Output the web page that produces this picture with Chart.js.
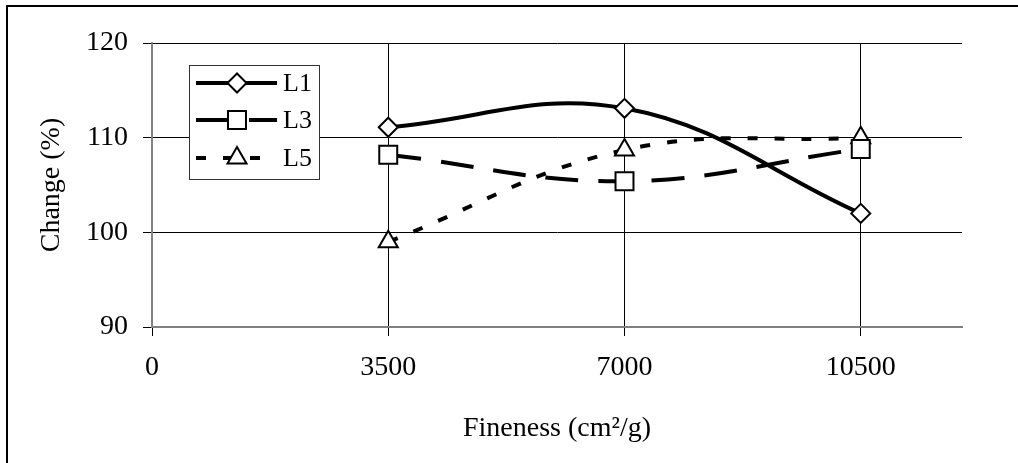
<!DOCTYPE html>
<html>
<head>
<meta charset="utf-8">
<script src="https://cdn.jsdelivr.net/npm/chart.js@4.4.0/dist/chart.umd.min.js"></script>
<style>
  html, body { margin: 0; padding: 0; background: #fff; overflow: hidden; }
</style>
</head>
<body>
<canvas id="fineChart" width="1018" height="463"></canvas>
<script>
const fineness = [3500, 7000, 10500];
const l1 = [111.1, 113.1, 102.0];
const l3 = [108.2, 105.4, 108.8];
const l5 = [99.0, 108.7, 110.0];
const xTicks = [0, 3500, 7000, 10500];
const seriesNames = ["L1", "L3", "L5"];

const serif = "'Liberation Serif', 'Times New Roman', serif";

function points(values) {
  return fineness.map((x, i) => ({ x: x, y: values[i] }));
}

function drawMarker(ctx, style, x, y, r) {
  ctx.beginPath();
  if (style === "rectRot") {
    ctx.moveTo(x, y - r);
    ctx.lineTo(x + r, y);
    ctx.lineTo(x, y + r);
    ctx.lineTo(x - r, y);
    ctx.closePath();
  } else if (style === "rect") {
    const s = r * Math.SQRT1_2;
    ctx.rect(x - s, y - s, 2 * s, 2 * s);
  } else {
    let a = 0;
    ctx.moveTo(x + Math.sin(a) * r, y - Math.cos(a) * r);
    a += (2 * Math.PI) / 3;
    ctx.lineTo(x + Math.sin(a) * r, y - Math.cos(a) * r);
    a += (2 * Math.PI) / 3;
    ctx.lineTo(x + Math.sin(a) * r, y - Math.cos(a) * r);
    ctx.closePath();
  }
  ctx.fill();
  ctx.stroke();
}

// legend box drawn by hand so it can show dashes + markers like the original
const boxLegend = {
  id: "boxLegend",
  afterDatasetsDraw(chart) {
    const ctx = chart.ctx;
    ctx.save();
    ctx.fillStyle = "#fff";
    ctx.fillRect(189, 65, 130, 114);
    ctx.strokeStyle = "#333";
    ctx.lineWidth = 1;
    ctx.strokeRect(189.5, 65.5, 130, 114);
    const rows = [83, 120, 158];
    chart.data.datasets.forEach((ds, i) => {
      const y = rows[i];
      ctx.strokeStyle = "#000";
      ctx.lineWidth = ds.borderWidth;
      ctx.setLineDash(ds.borderDash || []);
      ctx.beginPath();
      ctx.moveTo(196, y);
      ctx.lineTo(277, y);
      ctx.stroke();
      ctx.setLineDash([]);
      ctx.lineWidth = ds.pointBorderWidth;
      ctx.fillStyle = "#fff";
      drawMarker(ctx, ds.pointStyle, 237, y, ds.pointRadius);
      ctx.fillStyle = "#000";
      ctx.font = "26px " + serif;
      ctx.textBaseline = "middle";
      ctx.textAlign = "left";
      ctx.fillText(ds.label, 283, y + 1);
    });
    ctx.restore();
  },
  afterDraw(chart) {
    const ctx = chart.ctx;
    ctx.save();
    ctx.strokeStyle = "#000";
    ctx.lineWidth = 2;
    ctx.strokeRect(7, 6, 1100, 600);
    ctx.restore();
  }
};

new Chart(document.getElementById("fineChart").getContext("2d"), {
  type: "line",
  data: {
    datasets: [
      {
        label: seriesNames[0],
        data: points(l1),
        borderColor: "#000",
        borderWidth: 4,
        pointStyle: "rectRot",
        pointRadius: 9.5,
        pointBorderWidth: 2,
        pointBackgroundColor: "#fff",
        pointBorderColor: "#000",
        tension: 0.4,
      },
      {
        label: seriesNames[1],
        data: points(l3),
        borderColor: "#000",
        borderWidth: 4,
        borderDash: [33, 20],
        pointStyle: "rect",
        pointRadius: 12.7,
        pointBorderWidth: 2,
        pointBackgroundColor: "#fff",
        pointBorderColor: "#000",
        tension: 0.4,
      },
      {
        label: seriesNames[2],
        data: points(l5),
        borderColor: "#000",
        borderWidth: 4,
        borderDash: [10, 17],
        pointStyle: "triangle",
        pointRadius: 11,
        pointBorderWidth: 2,
        pointBackgroundColor: "#fff",
        pointBorderColor: "#000",
        tension: 0.4,
      },
    ],
  },
  options: {
    responsive: false,
    animation: false,
    layout: {
      padding: { top: 43, right: 56, left: 0, bottom: 0 },
    },
    plugins: {
      legend: { display: false },
      tooltip: { enabled: false },
    },
    scales: {
      x: {
        type: "linear",
        min: 0,
        max: 12000,
        afterBuildTicks: (scale) => {
          scale.ticks = xTicks.map((v) => ({ value: v }));
        },
        afterFit: (scale) => {
          scale.height = 136;
        },
        grid: {
          color: "#000",
          lineWidth: 1,
          tickLength: 9,
        },
        border: { color: "#808080", width: 2 },
        ticks: {
          color: "#000",
          font: { family: serif, size: 28 },
          padding: 15,
          maxRotation: 0,
          callback: (v) => String(v),
        },
        title: {
          display: true,
          text: "Fineness (cm²/g)",
          color: "#000",
          font: { family: serif, size: 28 },
          padding: { top: 0, bottom: 18 },
        },
      },
      y: {
        min: 90,
        max: 120,
        ticks: {
          stepSize: 10,
          color: "#000",
          font: { family: serif, size: 28 },
          padding: 15,
        },
        afterFit: (scale) => {
          scale.width = 152;
        },
        grid: {
          color: "#000",
          lineWidth: 1,
          tickLength: 9,
        },
        border: { color: "#808080", width: 2 },
        title: {
          display: true,
          text: "Change (%)",
          color: "#000",
          font: { family: serif, size: 28 },
          padding: { top: 35, bottom: 0 },
        },
      },
    },
  },
  plugins: [boxLegend],
});
</script>
</body>
</html>
